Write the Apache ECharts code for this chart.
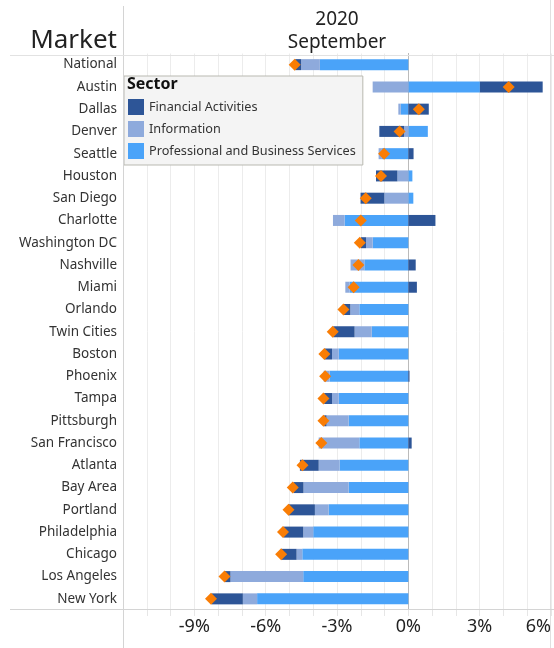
<!DOCTYPE html>
<html>
<head>
<meta charset="utf-8">
<script src="https://cdn.jsdelivr.net/npm/echarts@6/dist/echarts.min.js"></script>
<style>
html, body { margin: 0; padding: 0; background: #fff; }
#main { width: 554px; height: 648px; }
</style>
</head>
<body>
<div id="main"></div>
<script>
var markets = ['National', 'Austin', 'Dallas', 'Denver', 'Seattle', 'Houston', 'San Diego', 'Charlotte',
    'Washington DC', 'Nashville', 'Miami', 'Orlando', 'Twin Cities', 'Boston', 'Phoenix', 'Tampa',
    'Pittsburgh', 'San Francisco', 'Atlanta', 'Bay Area', 'Portland', 'Philadelphia', 'Chicago',
    'Los Angeles', 'New York'];

// change by sector, in %
var profBusiness = [-3.72, 3.01, -0.32, 0.82, -1.11, 0.17, 0.21, -2.68, -1.5, -1.85, -2.47, -2.06, -1.54,
    -2.93, -3.31, -2.93, -2.51, -2.06, -2.89, -2.51, -3.35, -4.0, -4.46, -4.42, -6.36];
var information = [-0.79, -1.5, -0.1, -0.18, -0.14, -0.46, -1.01, -0.49, -0.28, -0.58, -0.18, -0.38, -0.72,
    -0.28, -0.25, -0.28, -0.93, -1.71, -0.88, -1.9, -0.58, -0.42, -0.24, -3.06, -0.6];
var financial = [-0.25, 2.64, 0.86, -1.04, 0.22, -0.9, -1.0, 1.14, -0.21, 0.31, 0.36, -0.28, -0.9,
    -0.31, 0.05, -0.33, -0.1, 0.14, -0.79, -0.42, -1.11, -0.83, -0.65, -0.24, -1.32];
// total marker (orange diamond)
var totalChange = [-4.78, 4.22, 0.44, -0.37, -1.02, -1.15, -1.79, -2.0, -2.04, -2.1, -2.3, -2.73, -3.18,
    -3.53, -3.5, -3.57, -3.57, -3.66, -4.45, -4.86, -5.04, -5.27, -5.35, -7.73, -8.3];

var tickLabels = [-9, -6, -3, 0, 3, 6];

var font = '"Noto Sans", sans-serif';
var textColor = '#333';

var myChart = echarts.init(document.getElementById('main'));

var option = {
    animation: false,
    textStyle: { fontFamily: font },
    grid: {
        left: 123,
        right: 3,
        top: 53.5,
        bottom: 38
    },
    legend: {
        orient: 'vertical',
        left: 124,
        top: 76,
        data: ['Financial Activities', 'Information', 'Professional and Business Services'],
        backgroundColor: '#f4f4f4',
        borderColor: '#b9b9b1',
        borderWidth: 1,
        borderRadius: 0,
        padding: [23, 7, 6, 4],
        itemWidth: 16,
        itemHeight: 16,
        itemGap: 6,
        icon: 'rect',
        textStyle: {
            color: textColor,
            fontSize: 12.7,
            fontFamily: font
        }
    },
    graphic: [
        {
            type: 'text', z: 100, left: 127, top: 76,
            style: { text: 'Sector', font: 'bold 16px ' + font, fill: '#111' }
        },
        {
            type: 'text', z: 100,
            style: { x: 117, y: 54, text: 'Market', font: '26px ' + font, fill: '#222', textAlign: 'right', textVerticalAlign: 'bottom' }
        },
        {
            type: 'text', z: 100,
            style: { x: 337, y: 8, text: '2020\nSeptember', font: '19px ' + font, fill: '#222', textAlign: 'center', lineHeight: 23 }
        },
        {
            type: 'line', z: 100,
            shape: { x1: 123.5, y1: 6, x2: 123.5, y2: 648 },
            style: { stroke: '#d4d4d4', lineWidth: 1 }
        },
        {
            type: 'line', z: 100,
            shape: { x1: 550.5, y1: 0, x2: 550.5, y2: 648 },
            style: { stroke: '#e0e0e0', lineWidth: 1 }
        },
        {
            type: 'line', z: 100,
            shape: { x1: 10, y1: 55.5, x2: 554, y2: 55.5 },
            style: { stroke: '#e2e2e2', lineWidth: 1 }
        },
        {
            type: 'line', z: 100,
            shape: { x1: 10, y1: 609.5, x2: 554, y2: 609.5 },
            style: { stroke: '#d4d4d4', lineWidth: 1 }
        }
    ],
    xAxis: {
        type: 'value',
        min: -12,
        max: 6,
        interval: 1,
        axisLine: { show: false },
        axisTick: { show: true, length: 6, lineStyle: { color: '#e6e6e6' } },
        splitLine: { show: true, lineStyle: { color: '#ececec', width: 1 } },
        axisLabel: {
            color: '#222',
            fontSize: 18,
            margin: 8,
            alignMaxLabel: 'right',
            formatter: function (v) {
                return tickLabels.indexOf(v) >= 0 ? v + '%' : '';
            }
        }
    },
    yAxis: {
        type: 'category',
        data: markets,
        inverse: true,
        axisLine: { show: true, onZero: true, lineStyle: { color: '#b5b5b5', type: 'dotted', width: 1 } },
        axisTick: { show: false },
        axisLabel: {
            color: textColor,
            fontSize: 13.5,
            margin: 6
        },
        splitLine: { show: false }
    },
    series: [
        {
            name: 'Professional and Business Services',
            type: 'bar',
            stack: 'sector',
            barWidth: 11,
            itemStyle: { color: '#4aa3f9' },
            data: profBusiness
        },
        {
            name: 'Information',
            type: 'bar',
            stack: 'sector',
            barWidth: 11,
            itemStyle: { color: '#8eaadc' },
            data: information
        },
        {
            name: 'Financial Activities',
            type: 'bar',
            stack: 'sector',
            barWidth: 11,
            itemStyle: { color: '#2d5597' },
            data: financial
        },
        {
            name: 'Total',
            type: 'scatter',
            symbol: 'diamond',
            symbolSize: 12,
            z: 10,
            itemStyle: { color: '#f97d05', opacity: 1 },
            data: totalChange.map(function (v, i) { return [v, markets[i]]; })
        }
    ]
};

myChart.setOption(option);
</script>
</body>
</html>
